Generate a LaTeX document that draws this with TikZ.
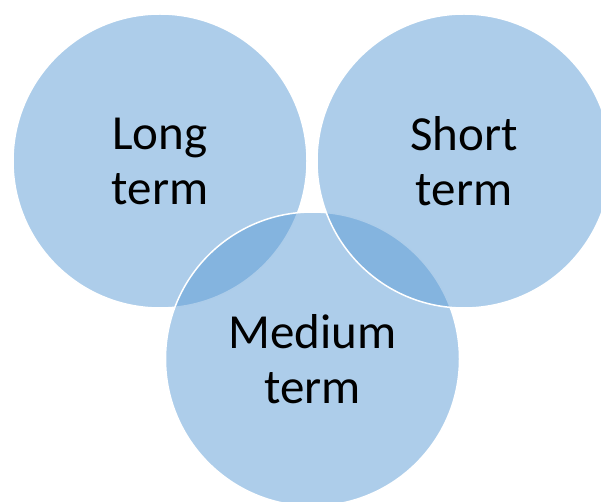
\documentclass[tikz,border=0pt]{standalone}
\usepackage{fontspec}
\setmainfont{Carlito}
\definecolor{vennblue}{HTML}{5B9BD5}
\begin{document}
\begin{tikzpicture}[x=1pt,y=-1pt,
  venn/.style={circle, minimum size=294pt, inner sep=0pt, fill=vennblue,
    fill opacity=0.5, text opacity=1, draw=white, line width=1.5pt,
    align=center, font=\fontsize{49pt}{55pt}\selectfont, text=black}]
\useasboundingbox (0,0) rectangle (601,502);
\clip (0,0) rectangle (601,502);
\node[venn] (long) at (160,161) {Long\\term};
\node[venn] (medium) at (312.5,359) {Medium\\term};
\node[venn] (short) at (464,161) {Short\\term};
\end{tikzpicture}
\end{document}
